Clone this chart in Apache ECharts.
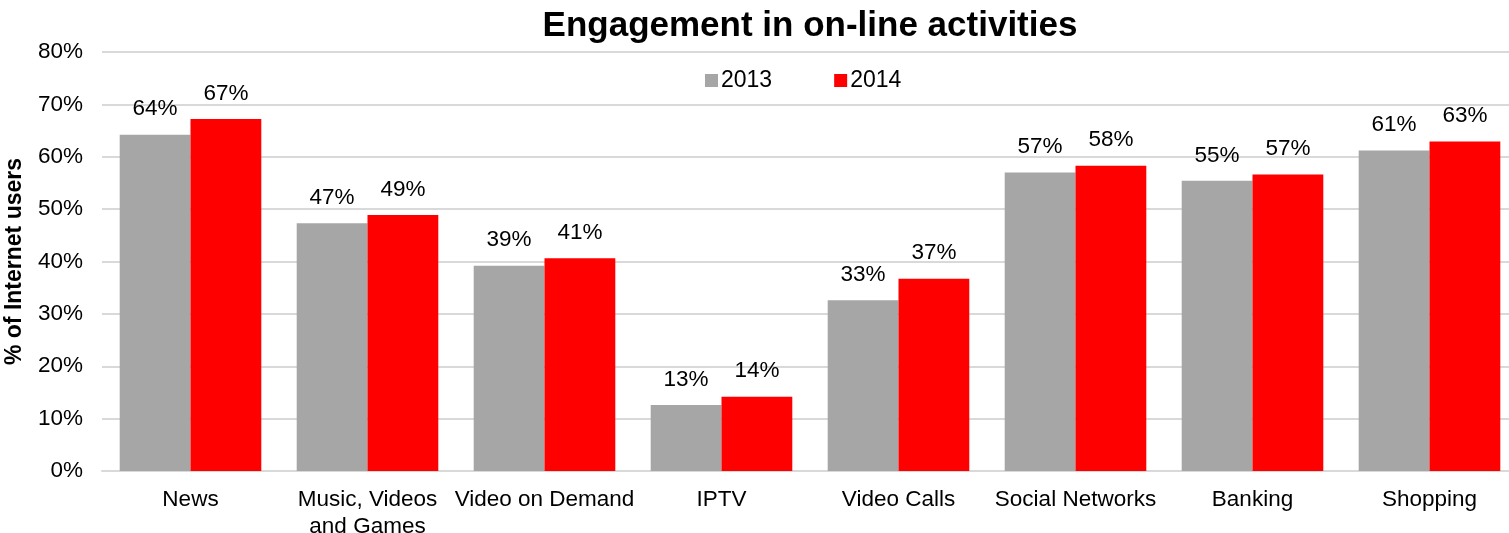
<!DOCTYPE html>
<html>
<head>
<meta charset="utf-8">
<script src="https://cdn.jsdelivr.net/npm/echarts@6/dist/echarts.min.js"></script>
<style>
    html, body { margin: 0; padding: 0; background: #fff; }
    #main { width: 1509px; height: 533px; }
</style>
</head>
<body>
<div id="main"></div>
<script>
// 数据
var categories = ['News', 'Music, Videos\nand Games', 'Video on Demand', 'IPTV', 'Video Calls', 'Social Networks', 'Banking', 'Shopping'];
var data2013 = [64.2, 47.3, 39.2, 12.6, 32.6, 57.0, 55.4, 61.2];
var data2014 = [67.2, 48.9, 40.6, 14.2, 36.7, 58.3, 56.6, 62.9];
var yTicks = [0, 10, 20, 30, 40, 50, 60, 70, 80];

var fontFamily = '"Liberation Sans", Arial, sans-serif';

var my_chart = echarts.init(document.getElementById('main'));

var labelOpt = {
    show: true,
    position: 'top',
    distance: 14,
    color: '#000',
    fontSize: 22.5,
    fontFamily: fontFamily,
    formatter: function (p) {
        return Math.round(p.value) + '%';
    }
};

var option = {
    backgroundColor: '#fff',
    animation: false,
    title: {
        text: 'Engagement in on-line activities',
        left: 805,
        textAlign: 'center',
        top: 4,
        textStyle: {
            fontSize: 35,
            fontWeight: 'bold',
            color: '#000',
            fontFamily: fontFamily
        }
    },
    legend: {
        data: ['2013', '2014'],
        left: 700,
        top: 64,
        itemWidth: 13,
        itemHeight: 13,
        itemGap: 62,
        icon: 'rect',
        textStyle: {
            fontSize: 23,
            color: '#000',
            fontFamily: fontFamily,
            padding: [0, 0, 0, -2]
        }
    },
    grid: {
        left: 102,
        top: 52,
        width: 1416,
        height: 419,
        outerBoundsMode: 'none',
        containLabel: false
    },
    xAxis: {
        type: 'category',
        data: categories,
        axisLine: { lineStyle: { color: '#D9D9D9', width: 2 } },
        axisTick: { show: false },
        axisLabel: {
            interval: 0,
            margin: 15,
            color: '#000',
            fontSize: 22.5,
            lineHeight: 27,
            fontFamily: fontFamily
        }
    },
    yAxis: {
        type: 'value',
        min: yTicks[0],
        max: yTicks[yTicks.length - 1],
        interval: 10,
        name: '% of Internet users',
        nameLocation: 'middle',
        nameGap: 76,
        nameTextStyle: {
            fontSize: 23,
            fontWeight: 'bold',
            color: '#000',
            fontFamily: fontFamily
        },
        axisLine: { show: false },
        axisTick: { show: false },
        axisLabel: {
            margin: 19,
            color: '#000',
            fontSize: 22.5,
            fontFamily: fontFamily,
            formatter: '{value}%'
        },
        splitLine: { lineStyle: { color: '#D9D9D9', width: 2 } }
    },
    series: [
        {
            name: '2013',
            type: 'bar',
            data: data2013,
            barGap: '0%',
            barCategoryGap: '20%',
            itemStyle: { color: '#A6A6A6' },
            label: labelOpt
        },
        {
            name: '2014',
            type: 'bar',
            data: data2014,
            barGap: '0%',
            barCategoryGap: '20%',
            itemStyle: { color: '#FF0000' },
            label: labelOpt
        }
    ]
};

my_chart.setOption(option);
</script>
</body>
</html>
